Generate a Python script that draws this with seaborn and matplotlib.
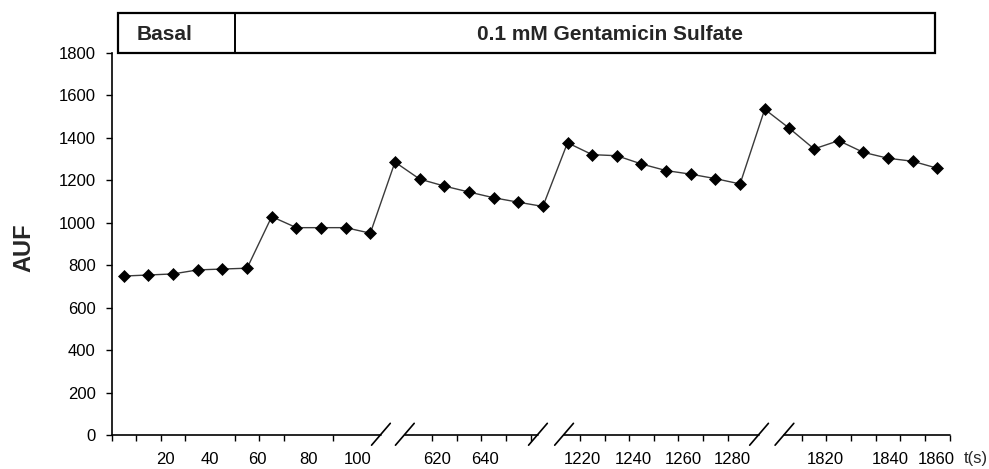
import numpy as np
import pandas as pd
import matplotlib
matplotlib.use("Agg")
import matplotlib.pyplot as plt
from matplotlib.patches import Rectangle
from matplotlib.lines import Line2D
import seaborn as sns

# ---------------- data ----------------
auf = [749, 754, 759, 778, 782, 786, 1029, 977, 977, 977, 951,
       1286, 1206, 1173, 1145, 1118, 1097, 1077,
       1377, 1321, 1316, 1277, 1246, 1229, 1208, 1183,
       1535, 1445, 1348, 1387, 1332, 1304, 1290, 1257]
time_labels = ["20", "40", "60", "80", "100", "620", "640",
               "1220", "1240", "1260", "1280", "1820", "1840", "1860"]
x_unit = "t(s)"
y_ticks = [0, 200, 400, 600, 800, 1000, 1200, 1400, 1600, 1800]
phase_labels = ["Basal", "0.1 mM Gentamicin Sulfate"]
y_label = "AUF"

# ---------------- layout (category-index units) ----------------
label_pos = [1.7, 3.5, 5.4, 7.5, 9.5, 12.7, 14.65,
             18.6, 20.66, 22.7, 24.7, 28.45, 31.1, 32.95]
unit_pos = 34.55
tick_bounds = ([k - 0.5 for k in range(0, 11)] + [k - 0.5 for k in range(13, 18)]
               + [k - 0.5 for k in range(19, 26)] + [k - 0.5 for k in range(28, 35)])
axis_segments = [(-0.5, 10.43), (11.4, 16.8), (17.86, 25.77), (26.8, 33.5)]
break_marks = [10.43, 11.4, 16.8, 17.86, 25.77, 26.8]

sns.set_style("ticks")
plt.rcParams["font.family"] = ["Liberation Sans", "DejaVu Sans"]

df = pd.DataFrame({"pos": np.arange(len(auf)), "AUF": auf})

W, H = 989, 469
fig = plt.figure(figsize=(W / 100, H / 100), dpi=100)
ax = fig.add_axes([111.5 / W, (H - 435) / H, (949.6 - 111.5) / W, 382 / H])

sns.lineplot(data=df, x="pos", y="AUF", ax=ax, color="#3a3a3a", linewidth=1.0,
             marker="D", markersize=6.3, markerfacecolor="black",
             markeredgecolor="black", markeredgewidth=0.5)

ax.set_yticks(y_ticks)
ax.set_yticklabels([str(v) for v in y_ticks])
ax.set_xticks(label_pos)
ax.set_xticklabels(time_labels)
ax.set_xticks(tick_bounds, minor=True)
ax.set_xlim(-0.5, 33.5)
ax.set_ylim(0, 1800)

ax.tick_params(axis="x", which="major", length=0, pad=12, labelsize=12, colors="black")
ax.tick_params(axis="x", which="minor", length=4.5, width=1.0, direction="out", color="black")
ax.tick_params(axis="y", which="major", length=4.5, width=1.0, direction="out",
               pad=7, labelsize=12, colors="black")

ax.annotate(x_unit, xy=(unit_pos, 0), xycoords=("data", "axes fraction"),
            xytext=(0, -11.2), textcoords="offset points", ha="center", va="top",
            fontsize=12, annotation_clip=False)

ax.set_xlabel("")
ax.set_ylabel(y_label, fontsize=17, fontweight="bold")
ax.yaxis.set_label_coords(-0.091, 0.49)

for s in ["top", "right", "bottom"]:
    ax.spines[s].set_visible(False)
ax.spines["left"].set_color("black")
ax.spines["left"].set_linewidth(1.2)

for a, b in axis_segments:
    ax.plot([a, b], [0, 0], color="black", linewidth=1.2, clip_on=False, zorder=3)
for c in break_marks:
    ax.plot([c - 0.38, c + 0.38], [-48, 55], color="black", linewidth=1.2,
            clip_on=False, zorder=3)
ax.set_xlim(-0.5, 33.5)
ax.set_ylim(0, 1800)

# phase box on top
x0, x1, xd = 118 / W, 935 / W, 235 / W
yb, yt = (H - 53) / H, (H - 13) / H
fig.add_artist(Rectangle((x0, yb), x1 - x0, yt - yb, transform=fig.transFigure,
                         fill=False, edgecolor="black", linewidth=1.6))
fig.add_artist(Line2D([xd, xd], [yb, yt], transform=fig.transFigure,
                      color="black", linewidth=1.4))
fig.text(165 / W, (H - 34) / H, phase_labels[0], ha="center", va="center",
         fontsize=15, fontweight="bold")
fig.text(610 / W, (H - 34) / H, phase_labels[1], ha="center", va="center",
         fontsize=15, fontweight="bold")

fig.savefig("out.png", dpi=100)
